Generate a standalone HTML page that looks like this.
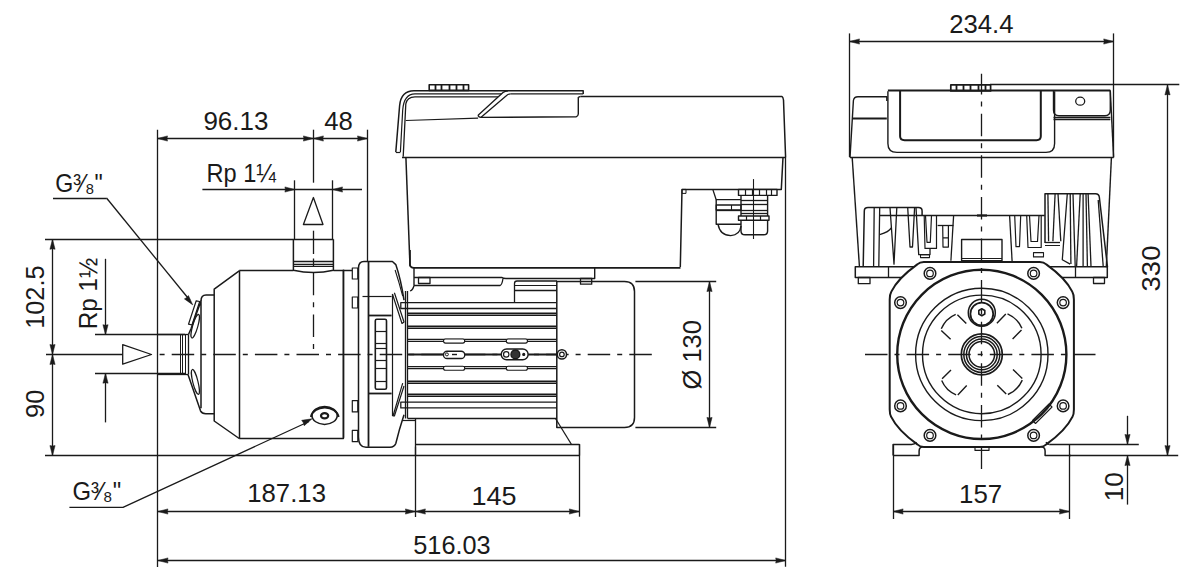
<!DOCTYPE html>
<html><head><meta charset="utf-8"><style>
html,body{margin:0;padding:0;background:#fff;width:1200px;height:584px;overflow:hidden}
svg{display:block}
text{font-family:"Liberation Sans",sans-serif;fill:#1a1a1a;stroke:none}
</style></head><body>
<svg width="1200" height="584" viewBox="0 0 1200 584" fill="none" stroke="#1a1a1a" stroke-linecap="butt" stroke-linejoin="round">
<line x1="157.5" y1="138.5" x2="367.5" y2="138.5" stroke-width="1.3" />
<polygon points="157.5,138.5 167.50,135.90 167.00,138.50 167.50,141.10" fill="#1a1a1a" stroke="#1a1a1a" stroke-width="0.5"/>
<polygon points="313.4,138.5 303.40,141.10 303.90,138.50 303.40,135.90" fill="#1a1a1a" stroke="#1a1a1a" stroke-width="0.5"/>
<polygon points="313.4,138.5 323.40,135.90 322.90,138.50 323.40,141.10" fill="#1a1a1a" stroke="#1a1a1a" stroke-width="0.5"/>
<polygon points="367.5,138.5 357.50,141.10 358.00,138.50 357.50,135.90" fill="#1a1a1a" stroke="#1a1a1a" stroke-width="0.5"/>
<line x1="157.5" y1="129.7" x2="157.5" y2="567" stroke-width="1.3" />
<line x1="313.5" y1="129.7" x2="313.5" y2="182.7" stroke-width="1.3" />
<line x1="367.5" y1="129.7" x2="367.5" y2="262" stroke-width="1.3" />
<text x="235.9" y="130.3" font-size="25" text-anchor="middle" textLength="65" lengthAdjust="spacingAndGlyphs" >96.13</text>
<text x="338.6" y="130.3" font-size="25" text-anchor="middle" textLength="28.6" lengthAdjust="spacingAndGlyphs" >48</text>
<text x="206.5" y="182" font-size="25" text-anchor="start" textLength="69.5" lengthAdjust="spacingAndGlyphs" >Rp 1¼</text>
<line x1="202.4" y1="189.5" x2="294.9" y2="189.5" stroke-width="1.3" />
<polygon points="294.9,189.5 284.90,192.10 285.40,189.50 284.90,186.90" fill="#1a1a1a" stroke="#1a1a1a" stroke-width="0.5"/>
<line x1="362" y1="189.5" x2="294.9" y2="189.5" stroke-width="1.3" />
<polygon points="332.5,189.5 342.50,186.90 342.00,189.50 342.50,192.10" fill="#1a1a1a" stroke="#1a1a1a" stroke-width="0.5"/>
<line x1="294.5" y1="180.3" x2="294.5" y2="239.3" stroke-width="1.3" />
<line x1="332.5" y1="180.3" x2="332.5" y2="239.3" stroke-width="1.3" />
<polygon points="303.4,224.5 313.4,197.5 323,224.5" stroke-width="1.3" />
<line x1="52.5" y1="239.3" x2="52.5" y2="455.6" stroke-width="1.3" />
<polygon points="52.5,239.3 55.10,249.30 52.50,248.80 49.90,249.30" fill="#1a1a1a" stroke="#1a1a1a" stroke-width="0.5"/>
<polygon points="52.5,354.5 49.90,344.50 52.50,345.00 55.10,344.50" fill="#1a1a1a" stroke="#1a1a1a" stroke-width="0.5"/>
<polygon points="52.5,354.5 55.10,364.50 52.50,364.00 49.90,364.50" fill="#1a1a1a" stroke="#1a1a1a" stroke-width="0.5"/>
<polygon points="52.5,455.6 49.90,445.60 52.50,446.10 55.10,445.60" fill="#1a1a1a" stroke="#1a1a1a" stroke-width="0.5"/>
<line x1="45" y1="239.5" x2="333.4" y2="239.5" stroke-width="1.3" />
<line x1="46" y1="354.5" x2="122.7" y2="354.5" stroke-width="1.3" />
<line x1="45" y1="455.5" x2="580" y2="455.5" stroke-width="1.3" />
<text x="43.6" y="328.8" font-size="25" text-anchor="start" transform="rotate(-90 43.6 328.8)" textLength="63.4" lengthAdjust="spacingAndGlyphs" >102.5</text>
<text x="44" y="417.9" font-size="25" text-anchor="start" transform="rotate(-90 44 417.9)" textLength="28.2" lengthAdjust="spacingAndGlyphs" >90</text>
<line x1="105.5" y1="258.8" x2="105.5" y2="334.7" stroke-width="1.3" />
<polygon points="105.5,334.7 102.90,324.70 105.50,325.20 108.10,324.70" fill="#1a1a1a" stroke="#1a1a1a" stroke-width="0.5"/>
<line x1="105.5" y1="422.4" x2="105.5" y2="373.2" stroke-width="1.3" />
<polygon points="105.5,373.2 108.10,383.20 105.50,382.70 102.90,383.20" fill="#1a1a1a" stroke="#1a1a1a" stroke-width="0.5"/>
<line x1="95" y1="334.5" x2="185" y2="334.5" stroke-width="1.3" />
<line x1="95" y1="373.5" x2="185" y2="373.5" stroke-width="1.3" />
<text x="96.8" y="329.2" font-size="25" text-anchor="start" transform="rotate(-90 96.8 329.2)" textLength="71.6" lengthAdjust="spacingAndGlyphs" >Rp 1½</text>
<polygon points="122.7,344.7 151.5,354.5 122.7,364.2" stroke-width="1.3" />
<text x="55.3" y="192" font-size="25" text-anchor="start" textLength="47.5" lengthAdjust="spacingAndGlyphs" >G³⁄₈"</text>
<line x1="53" y1="198.5" x2="106.5" y2="198.5" stroke-width="1.3" />
<line x1="106.5" y1="198" x2="190" y2="300.5" stroke-width="1.3" />
<polygon points="192.8,304.9 184.40,298.88 186.72,297.60 188.40,295.55" fill="#1a1a1a" stroke="#1a1a1a" stroke-width="0.5"/>
<text x="72.4" y="499.6" font-size="25" text-anchor="start" textLength="48.8" lengthAdjust="spacingAndGlyphs" >G³⁄₈"</text>
<polyline points="69.4,507.3 123,507.3 309,421.5" stroke-width="1.3" />
<polygon points="312,418.8 304.21,425.75 303.39,422.82 301.67,420.32" fill="#1a1a1a" stroke="#1a1a1a" stroke-width="0.5"/>
<line x1="157.9" y1="511.5" x2="579.3" y2="511.5" stroke-width="1.3" />
<polygon points="157.9,511.5 167.90,508.90 167.40,511.50 167.90,514.10" fill="#1a1a1a" stroke="#1a1a1a" stroke-width="0.5"/>
<polygon points="415.4,511.5 405.40,514.10 405.90,511.50 405.40,508.90" fill="#1a1a1a" stroke="#1a1a1a" stroke-width="0.5"/>
<polygon points="415.4,511.5 425.40,508.90 424.90,511.50 425.40,514.10" fill="#1a1a1a" stroke="#1a1a1a" stroke-width="0.5"/>
<polygon points="579.3,511.5 569.30,514.10 569.80,511.50 569.30,508.90" fill="#1a1a1a" stroke="#1a1a1a" stroke-width="0.5"/>
<line x1="415.5" y1="446.7" x2="415.5" y2="517" stroke-width="1.3" />
<line x1="579.5" y1="444" x2="579.5" y2="516.7" stroke-width="1.3" />
<text x="286.6" y="502.3" font-size="25" text-anchor="middle" textLength="78.8" lengthAdjust="spacingAndGlyphs" >187.13</text>
<text x="493.9" y="504.8" font-size="25" text-anchor="middle" textLength="45" lengthAdjust="spacingAndGlyphs" >145</text>
<line x1="158" y1="560.5" x2="785.7" y2="560.5" stroke-width="1.3" />
<polygon points="158,560.5 168.00,557.90 167.50,560.50 168.00,563.10" fill="#1a1a1a" stroke="#1a1a1a" stroke-width="0.5"/>
<polygon points="785.7,560.5 775.70,563.10 776.20,560.50 775.70,557.90" fill="#1a1a1a" stroke="#1a1a1a" stroke-width="0.5"/>
<line x1="785.5" y1="157" x2="785.5" y2="566.7" stroke-width="1.3" />
<text x="452" y="554" font-size="25" text-anchor="middle" textLength="77.4" lengthAdjust="spacingAndGlyphs" >516.03</text>
<line x1="709.5" y1="281.6" x2="709.5" y2="427.4" stroke-width="1.3" />
<polygon points="709.5,281.6 712.10,291.60 709.50,291.10 706.90,291.60" fill="#1a1a1a" stroke="#1a1a1a" stroke-width="0.5"/>
<polygon points="709.5,427.4 706.90,417.40 709.50,417.90 712.10,417.40" fill="#1a1a1a" stroke="#1a1a1a" stroke-width="0.5"/>
<line x1="635.4" y1="281.5" x2="716.2" y2="281.5" stroke-width="1.3" />
<line x1="635.4" y1="427.5" x2="716.2" y2="427.5" stroke-width="1.3" />
<text x="701" y="389.5" font-size="25" text-anchor="start" transform="rotate(-90 701 389.5)" textLength="69.4" lengthAdjust="spacingAndGlyphs" >Ø 130</text>
<line x1="849.5" y1="41.5" x2="1113.7" y2="41.5" stroke-width="1.3" />
<polygon points="849.5,41.5 859.50,38.90 859.00,41.50 859.50,44.10" fill="#1a1a1a" stroke="#1a1a1a" stroke-width="0.5"/>
<polygon points="1113.7,41.5 1103.70,44.10 1104.20,41.50 1103.70,38.90" fill="#1a1a1a" stroke="#1a1a1a" stroke-width="0.5"/>
<line x1="849.5" y1="33.4" x2="849.5" y2="157" stroke-width="1.3" />
<line x1="1113.5" y1="33.4" x2="1113.5" y2="157" stroke-width="1.3" />
<text x="981.4" y="33.4" font-size="25" text-anchor="middle" textLength="64.3" lengthAdjust="spacingAndGlyphs" >234.4</text>
<line x1="1167.5" y1="84.9" x2="1167.5" y2="455.6" stroke-width="1.3" />
<polygon points="1167.5,84.9 1170.10,94.90 1167.50,94.40 1164.90,94.90" fill="#1a1a1a" stroke="#1a1a1a" stroke-width="0.5"/>
<polygon points="1167.5,455.6 1164.90,445.60 1167.50,446.10 1170.10,445.60" fill="#1a1a1a" stroke="#1a1a1a" stroke-width="0.5"/>
<line x1="990" y1="84.5" x2="1179.3" y2="84.5" stroke-width="1.3" />
<line x1="1069.5" y1="455.5" x2="1178.2" y2="455.5" stroke-width="1.3" />
<text x="1160" y="291.4" font-size="25" text-anchor="start" transform="rotate(-90 1160 291.4)" textLength="45.8" lengthAdjust="spacingAndGlyphs" >330</text>
<line x1="893.1" y1="511.5" x2="1069.5" y2="511.5" stroke-width="1.3" />
<polygon points="893.1,511.5 903.10,508.90 902.60,511.50 903.10,514.10" fill="#1a1a1a" stroke="#1a1a1a" stroke-width="0.5"/>
<polygon points="1069.5,511.5 1059.50,514.10 1060.00,511.50 1059.50,508.90" fill="#1a1a1a" stroke="#1a1a1a" stroke-width="0.5"/>
<line x1="893.5" y1="444.4" x2="893.5" y2="519" stroke-width="1.3" />
<line x1="1069.5" y1="444.4" x2="1069.5" y2="519" stroke-width="1.3" />
<text x="980.6" y="503.3" font-size="25" text-anchor="middle" textLength="43.2" lengthAdjust="spacingAndGlyphs" >157</text>
<line x1="1127.5" y1="415.8" x2="1127.5" y2="444.4" stroke-width="1.3" />
<polygon points="1127.5,444.4 1124.90,434.40 1127.50,434.90 1130.10,434.40" fill="#1a1a1a" stroke="#1a1a1a" stroke-width="0.5"/>
<line x1="1127.5" y1="504.6" x2="1127.5" y2="455.6" stroke-width="1.3" />
<polygon points="1127.5,455.6 1130.10,465.60 1127.50,465.10 1124.90,465.60" fill="#1a1a1a" stroke="#1a1a1a" stroke-width="0.5"/>
<line x1="1049.5" y1="444.5" x2="1138.8" y2="444.5" stroke-width="1.3" />
<text x="1123" y="501.2" font-size="25" text-anchor="start" transform="rotate(-90 1123 501.2)" textLength="29.1" lengthAdjust="spacingAndGlyphs" >10</text>
<line x1="157.5" y1="354.5" x2="653.5" y2="354.5" stroke-width="1.3" stroke-dasharray="22.5,7,5,7.1" stroke-dashoffset="27.4"/>
<line x1="313.5" y1="230.7" x2="313.5" y2="254" stroke-width="1.3" />
<line x1="313.5" y1="258.5" x2="313.5" y2="266" stroke-width="1.3" />
<line x1="157.5" y1="334.5" x2="188.5" y2="334.5" stroke-width="1.3" />
<line x1="157.5" y1="374.5" x2="188" y2="374.5" stroke-width="1.3" />
<line x1="180.5" y1="334.5" x2="180.5" y2="374.5" stroke-width="1.0" />
<line x1="182.5" y1="334.5" x2="182.5" y2="374.5" stroke-width="1.0" />
<line x1="185.5" y1="334.5" x2="185.5" y2="374.5" stroke-width="1.0" />
<line x1="188.5" y1="334.5" x2="188.5" y2="374.5" stroke-width="1.3" />
<polygon points="188.5,324.2 196.2,300.8 199.7,301.5 192,325" stroke-width="1.2" />
<ellipse cx="195.2" cy="326.2" rx="2.6" ry="12.3" stroke-width="1.2" transform="rotate(16 195.2 326.2)"/>
<ellipse cx="195.4" cy="381.9" rx="2.6" ry="12.8" stroke-width="1.2" transform="rotate(-14 195.4 381.9)"/>
<path d="M188.5,334.5 L191.1,328.5 L201,301 L201,408.2 M188,374.5 L200.5,410.8 Q202,413.7 205.7,413.7 L214.2,413.7" stroke-width="1.5" />
<path d="M201,301 Q201,295.1 206,295.1 L214.2,295.1" stroke-width="1.5" />
<path d="M239.2,270.8 L214.2,289.1 L214.2,421 L239.2,438.5" stroke-width="1.5" />
<line x1="239.2" y1="270.5" x2="293.4" y2="270.5" stroke-width="1.5" />
<path d="M239.2,438.5 L343.4,438.5 L343.4,270.6" stroke-width="1.5" />
<line x1="333.4" y1="270.5" x2="352.3" y2="270.5" stroke-width="1.5" />
<line x1="239.5" y1="270.8" x2="239.5" y2="438.5" stroke-width="1.5" />
<path d="M293.4,239.3 L293.4,270.2 Q313.6,275 333.4,270.2 L333.4,239.3" stroke-width="1.5" />
<line x1="293.4" y1="261.5" x2="333.4" y2="261.5" stroke-width="1.6" />
<line x1="293.4" y1="264.5" x2="333.4" y2="264.5" stroke-width="1.4" />
<line x1="293.4" y1="266.5" x2="333.4" y2="266.5" stroke-width="1.0" />
<line x1="313.5" y1="272.8" x2="313.5" y2="349" stroke-width="1.3" stroke-dasharray="22.5,7,5,7.1"/>
<ellipse cx="324.6" cy="415.4" rx="12.6" ry="9" stroke-width="1.5" />
<path d="M310.9,417 A13.95,10.8 0 0 1 338.6,417" stroke-width="2.0" />
<ellipse cx="324.6" cy="415.7" rx="3.6" ry="2.6" stroke-width="2.2" />
<rect x="352.3" y="268" width="5.5" height="11" rx="0" stroke-width="1.2" />
<rect x="352.3" y="297" width="5.5" height="11" rx="0" stroke-width="1.2" />
<rect x="352.3" y="400.6" width="5.5" height="11.3" rx="0" stroke-width="1.2" />
<rect x="352.3" y="430.4" width="5.5" height="11.3" rx="0" stroke-width="1.2" />
<line x1="343.5" y1="269.6" x2="343.5" y2="437.8" stroke-width="1.5" />
<path d="M358.5,437 L358.5,268 Q358.5,261.5 364,261.5 L392.4,261.5 L395.8,264.6 Q401,280 404,300.2" stroke-width="1.5" />
<path d="M358.5,437 Q358.5,447.3 366,447.3 L390,447.3 Q394.5,447 395.8,443.5 Q399,430 404,414.7" stroke-width="1.5" />
<line x1="368.5" y1="262" x2="368.5" y2="446.8" stroke-width="1.8" />
<line x1="362.5" y1="296.5" x2="391.6" y2="296.5" stroke-width="1.2" />
<line x1="368" y1="315.5" x2="391.6" y2="315.5" stroke-width="1.8" />
<line x1="368" y1="393.5" x2="391.6" y2="393.5" stroke-width="1.8" />
<line x1="392.5" y1="294" x2="392.5" y2="416" stroke-width="1.2" />
<rect x="375.3" y="319.3" width="11.2" height="70" rx="1.5" stroke-width="1.6" />
<line x1="375.3" y1="331.5" x2="386.5" y2="331.5" stroke-width="1.2" />
<line x1="375.3" y1="343.5" x2="386.5" y2="343.5" stroke-width="1.2" />
<line x1="375.3" y1="348.5" x2="386.5" y2="348.5" stroke-width="1.2" />
<line x1="375.3" y1="360.5" x2="386.5" y2="360.5" stroke-width="1.2" />
<line x1="375.3" y1="368.5" x2="386.5" y2="368.5" stroke-width="1.2" />
<line x1="375.3" y1="381.5" x2="386.5" y2="381.5" stroke-width="1.2" />
<path d="M395.1,270 Q399,282 402.7,296" stroke-width="1.1" />
<path d="M392.4,294 L402,323.5 L404,322 L394.4,292.7 M402.7,383.2 L393,416 L394.4,416 L404,386" stroke-width="1.2" />
<line x1="402" y1="420.5" x2="415.5" y2="420.5" stroke-width="1.2" />
<line x1="405.5" y1="291" x2="405.5" y2="418.5" stroke-width="1.3" />
<line x1="407.5" y1="291" x2="407.5" y2="418.5" stroke-width="1.3" />
<line x1="407.6" y1="313.5" x2="556.8" y2="313.5" stroke-width="1.8" />
<line x1="407.6" y1="315.5" x2="556.8" y2="315.5" stroke-width="1.0" />
<line x1="407.6" y1="326.5" x2="556.8" y2="326.5" stroke-width="1.8" />
<line x1="407.6" y1="328.5" x2="556.8" y2="328.5" stroke-width="1.0" />
<line x1="407.6" y1="339.5" x2="556.8" y2="339.5" stroke-width="1.3" />
<line x1="407.6" y1="341.5" x2="556.8" y2="341.5" stroke-width="1.0" />
<line x1="407.6" y1="354.5" x2="556.8" y2="354.5" stroke-width="1.8" />
<line x1="407.6" y1="366.5" x2="556.8" y2="366.5" stroke-width="1.0" />
<line x1="407.6" y1="368.5" x2="556.8" y2="368.5" stroke-width="1.3" />
<line x1="407.6" y1="381.5" x2="556.8" y2="381.5" stroke-width="1.8" />
<line x1="407.6" y1="383.5" x2="556.8" y2="383.5" stroke-width="1.0" />
<line x1="407.6" y1="394.5" x2="556.8" y2="394.5" stroke-width="1.8" />
<line x1="407.6" y1="396.5" x2="556.8" y2="396.5" stroke-width="1.0" />
<path d="M556.8,302.7 L400.8,302.7 L400.8,308.5 L556.8,308.5" stroke-width="1.3" />
<path d="M556.8,402.1 L400.8,402.1 L400.8,407.9 L556.8,407.9" stroke-width="1.3" />
<line x1="407.6" y1="418.5" x2="556.8" y2="418.5" stroke-width="1.5" />
<rect x="443.5" y="339" width="21.25" height="4.1" rx="2" stroke-width="1.1" fill="#fff"/>
<rect x="443.5" y="366.25" width="21.25" height="4" rx="2" stroke-width="1.1" fill="#fff"/>
<rect x="506.25" y="339" width="21.25" height="4.1" rx="2" stroke-width="1.1" fill="#fff"/>
<rect x="506.25" y="366.25" width="21.25" height="4" rx="2" stroke-width="1.1" fill="#fff"/>
<rect x="443.5" y="351.25" width="21.25" height="7.25" rx="3.6" stroke-width="1.3" fill="#fff"/>
<circle cx="446.9" cy="354.4" r="1.5" stroke-width="1.0" />
<line x1="452" y1="354.5" x2="457" y2="354.5" stroke-width="1.4" />
<rect x="501.25" y="349" width="26.85" height="10.75" rx="5.4" stroke-width="1.4" fill="#fff"/>
<circle cx="506.25" cy="354.4" r="2.7" stroke-width="1.2" />
<circle cx="515.4" cy="354.4" r="4.4" stroke-width="1.4" fill="#333"/>
<circle cx="523.75" cy="354.4" r="1.0" stroke-width="1.2" fill="#1a1a1a"/>
<circle cx="561.9" cy="354.4" r="4.6" stroke-width="1.5" fill="#fff"/>
<circle cx="561.9" cy="354.4" r="2.3" stroke-width="1.2" />
<path d="M556.8,281.6 L624.5,281.6 Q634.5,281.6 634.5,291.6 L634.5,417.4 Q634.5,427.4 624.5,427.4 L556.8,427.4 Z" stroke-width="1.5" />
<path d="M514.5,302.2 L514.5,283.5 Q514.5,281 517,281 L557,281" stroke-width="1.3" />
<line x1="514.5" y1="285.5" x2="557" y2="285.5" stroke-width="1.0" />
<line x1="514.5" y1="290.5" x2="557" y2="290.5" stroke-width="1.5" />
<path d="M410,250 L410,264.5 Q410,267.8 414,267.8 L680.5,267.8" stroke-width="1.7" />
<path d="M414,267.8 L414,285.5 M414,277.5 L502,277.5 Q503,278.5 506,278.5 L594.7,278.5 L594.7,267" stroke-width="1.4" />
<path d="M414,285.5 L500,285.5 Q502,285 503,278.5" stroke-width="1.3" />
<path d="M414,285.5 Q413,290 410,291" stroke-width="1.3" />
<rect x="418.5" y="277.5" width="11.5" height="6" rx="0" stroke-width="1.3" />
<rect x="580.5" y="278.5" width="11.2" height="5.7" rx="0" stroke-width="1.3" />
<line x1="415.5" y1="418.5" x2="415.5" y2="455.6" stroke-width="1.3" />
<path d="M555.5,418.5 L571.5,444.5" stroke-width="1.3" />
<line x1="415.5" y1="444.5" x2="579.5" y2="444.5" stroke-width="1.3" />
<line x1="579.5" y1="444.5" x2="579.5" y2="455.6" stroke-width="1.3" />
<rect x="429.2" y="84.8" width="39.4" height="5.6" rx="0" stroke-width="1.6" />
<line x1="435.5" y1="85" x2="435.5" y2="90.4" stroke-width="1.8" />
<line x1="441.5" y1="85" x2="441.5" y2="90.4" stroke-width="1.8" />
<line x1="449.5" y1="85" x2="449.5" y2="90.4" stroke-width="1.8" />
<line x1="456.5" y1="85" x2="456.5" y2="90.4" stroke-width="1.8" />
<line x1="463.5" y1="85" x2="463.5" y2="90.4" stroke-width="1.8" />
<path d="M395.8,152 L399.6,105.8 Q401,90.8 414,90.8 L583.2,90.8 L583.2,94.1" stroke-width="1.5" />
<path d="M400.4,152 L402.7,110 Q404,93.9 415,93.9 L501.4,93.9" stroke-width="1.2" />
<line x1="395.8" y1="152.5" x2="400.4" y2="152.5" stroke-width="1.2" />
<path d="M510.6,93.9 L583.2,93.9" stroke-width="1.2" />
<path d="M403.2,156.7 L405.8,104 Q407,96.8 415,96.8 L498,96.8" stroke-width="1.3" />
<line x1="580.5" y1="96.5" x2="782" y2="96.5" stroke-width="1.5" />
<path d="M782,96.3 Q783,96.8 783.5,100 L785.6,157.2" stroke-width="1.5" />
<path d="M478.1,115.2 L503,92.5 Q505,90.8 508,90.8" stroke-width="1.3" />
<path d="M480.8,117.4 L506,96 Q508,93.9 510.6,93.9" stroke-width="1.3" />
<path d="M478.1,115.2 Q478.5,117.4 480.8,117.4 L576.2,116.8 Q578,116.5 578.3,114 L578.3,97.3 L580.5,96.3" stroke-width="1.4" />
<line x1="405.8" y1="120.5" x2="478.1" y2="118.2" stroke-width="1.2" />
<line x1="402" y1="157.5" x2="785.6" y2="157.5" stroke-width="1.5" />
<path d="M405.9,157.3 L410,266.3" stroke-width="1.5" />
<path d="M783,157.3 L781.3,189.4 L682,189.4 L680.3,267.1" stroke-width="1.5" />
<rect x="682" y="189.4" width="4" height="4" rx="0" stroke-width="1.0" />
<rect x="738.5" y="189.4" width="38.5" height="6" rx="0" stroke-width="1.4" />
<line x1="745.5" y1="189.4" x2="745.5" y2="195.4" stroke-width="1.2" />
<line x1="752.5" y1="189.4" x2="752.5" y2="195.4" stroke-width="1.2" />
<line x1="759.5" y1="189.4" x2="759.5" y2="195.4" stroke-width="1.2" />
<line x1="766.5" y1="189.4" x2="766.5" y2="195.4" stroke-width="1.2" />
<line x1="771.5" y1="189.4" x2="771.5" y2="195.4" stroke-width="1.2" />
<path d="M741,195.4 L741,216 M767.6,195.4 L767.6,216" stroke-width="1.4" />
<line x1="741" y1="200.5" x2="767.6" y2="200.5" stroke-width="1.3" />
<line x1="741" y1="204.5" x2="767.6" y2="204.5" stroke-width="1.3" />
<line x1="741" y1="210.5" x2="767.6" y2="210.5" stroke-width="1.3" />
<line x1="741" y1="213.5" x2="767.6" y2="213.5" stroke-width="1.3" />
<rect x="738.5" y="216" width="30.5" height="4.2" rx="0" stroke-width="1.4" />
<line x1="746.5" y1="216" x2="746.5" y2="220.2" stroke-width="1.2" />
<line x1="760.5" y1="216" x2="760.5" y2="220.2" stroke-width="1.2" />
<path d="M741,220.2 L741,231 Q741,234.8 745,234.8 L763.6,234.8 Q767.6,234.8 767.6,231 L767.6,220.2" stroke-width="1.4" />
<line x1="753.5" y1="179.1" x2="753.5" y2="239" stroke-width="1.1" />
<path d="M712.8,189.4 L716.2,199.7 L741,199.7" stroke-width="1.3" />
<rect x="716.2" y="205" width="24.8" height="5" rx="0" stroke-width="1.3" />
<line x1="731.5" y1="205" x2="731.5" y2="210" stroke-width="1.1" />
<path d="M716.2,199.7 L716.2,224.2 L741,224.2 M718,224.2 Q720,235.6 730.8,235.6 Q740,235 741,226" stroke-width="1.4" />
<line x1="716.2" y1="210.5" x2="741" y2="210.5" stroke-width="1.3" />
<rect x="950.8" y="84.9" width="39.8" height="6" rx="0" stroke-width="1.7" />
<line x1="956.5" y1="85.1" x2="956.5" y2="90.5" stroke-width="1.8" />
<line x1="963.5" y1="85.1" x2="963.5" y2="90.5" stroke-width="1.8" />
<line x1="970.5" y1="85.1" x2="970.5" y2="90.5" stroke-width="1.8" />
<line x1="978.5" y1="85.1" x2="978.5" y2="90.5" stroke-width="1.8" />
<line x1="985.5" y1="85.1" x2="985.5" y2="90.5" stroke-width="1.8" />
<path d="M850,157.6 L853.4,100.5 Q854,96.7 858,96.7 L886.8,96.7 L886.8,101" stroke-width="1.4" />
<line x1="853" y1="118.5" x2="886.8" y2="118.5" stroke-width="2.0" />
<path d="M887.9,91.2 L887.9,143.5 Q887.9,152.4 897,152.4 L1046,152.4 Q1054.6,152.4 1054.6,143.5 L1054.6,91.2" stroke-width="1.4" />
<path d="M900.1,90.5 L900.1,136.3 Q900.1,140.2 904.6,140.2 L1036.5,140.2 Q1040.8,140.2 1040.8,136.3 L1040.8,90.5" stroke-width="2.0" />
<line x1="887.9" y1="90.5" x2="1110.3" y2="90.5" stroke-width="1.9" />
<path d="M1053.5,90.5 L1053.5,110 Q1053.5,115.7 1059,115.7 L1105,115.7 Q1110.3,115.7 1110.3,110 L1110.3,90.5" stroke-width="1.4" />
<line x1="1053.5" y1="117.5" x2="1110.3" y2="117.5" stroke-width="1.3" />
<line x1="1053.5" y1="119.5" x2="1110.3" y2="119.5" stroke-width="1.3" />
<ellipse cx="1080.2" cy="101.2" rx="4.5" ry="4" stroke-width="1.3" />
<path d="M1110.3,90.5 L1113.6,157.6" stroke-width="1.4" />
<line x1="850" y1="157.5" x2="1113.6" y2="157.5" stroke-width="1.5" />
<line x1="852.2" y1="157.6" x2="859.4" y2="266.2" stroke-width="1.4" />
<line x1="1111.4" y1="157.6" x2="1106.3" y2="267.2" stroke-width="1.4" />
<line x1="922" y1="215.5" x2="1044.7" y2="215.5" stroke-width="1.4" />
<path d="M863.2,266.2 L864.3,211 Q864.3,207.6 868,207.6 L918.5,207.6 Q922.1,207.6 922.1,211 L922.1,215.5" stroke-width="1.5" />
<path d="M874.2,207.6 L873.6,266.2 M879.7,207.6 L878.8,266.2" stroke-width="1.3" />
<path d="M890,207.6 L894,264.2 L896.8,207.6" stroke-width="1.3" />
<path d="M907.7,207.6 L910,247 L912.5,247 L914.6,207.6" stroke-width="1.3" />
<path d="M916,207.6 L918.7,254.6 L930,254.6 L930,248.4" stroke-width="1.3" />
<rect x="920.5" y="254.6" width="9" height="3" rx="0" stroke-width="1.1" />
<line x1="879.7" y1="215.5" x2="922" y2="215.5" stroke-width="1.3" />
<path d="M879.7,234.7 Q889,232 891.3,227.9" stroke-width="1.3" />
<path d="M924.2,215.5 L925,248.4 L936.5,248.4 L936.5,215.5 M925.5,215.5 L927,242.3 L930.3,242.3 L931.5,215.5" stroke-width="1.2" />
<line x1="937.6" y1="225.5" x2="953.5" y2="225.5" stroke-width="1.3" />
<path d="M942.7,225 L943,247.1 L948.4,247.1 L948.4,225 M943,237.9 L948.4,237.9" stroke-width="1.2" />
<line x1="953.6" y1="215.5" x2="950.9" y2="260.8" stroke-width="1.3" />
<path d="M1045,243 L1045,193.7 L1095.5,193.7 Q1098.9,193.7 1099.3,197 L1107.5,267" stroke-width="1.5" />
<polyline points="1047.9,193.7 1048.6,241.2" stroke-width="1.3" />
<polyline points="1055.1,193.7 1052.9,241.2" stroke-width="1.3" />
<polyline points="1058,193.7 1060.8,241.2" stroke-width="1.3" />
<polyline points="1067.3,193.7 1062.3,259.8 1070.2,264.1" stroke-width="1.3" />
<polyline points="1070.2,193.7 1070.9,264.1" stroke-width="1.3" />
<polyline points="1073,193.7 1075.2,266.3" stroke-width="1.3" />
<polyline points="1080.2,193.7 1076.6,266.3" stroke-width="1.3" />
<polyline points="1083.1,193.7 1083.1,266.3" stroke-width="1.3" />
<polyline points="1086,193.7 1087.4,266.3" stroke-width="1.3" />
<polyline points="1088.1,193.7 1091,266.3" stroke-width="1.3" />
<polyline points="1098.2,200 1103.2,266.3" stroke-width="1.3" />
<line x1="1045" y1="242.5" x2="1060" y2="242.5" stroke-width="1.3" />
<line x1="1045" y1="245.5" x2="1060" y2="245.5" stroke-width="1.0" />
<path d="M1009.6,215.5 L1012.1,261.2" stroke-width="1.3" />
<path d="M1014.7,215.5 L1016,246.6 L1019.5,246.6 L1020.7,215.5" stroke-width="1.2" />
<path d="M1026.7,215.5 L1028,247.5 L1041.2,247.5 L1041.2,215.5 M1029.5,215.5 L1031,241.5 L1037.5,241.5 L1039,215.5" stroke-width="1.2" />
<rect x="1033.5" y="252.6" width="10" height="4.3" rx="0" stroke-width="1.1" />
<rect x="855.3" y="266.8" width="252" height="10.7" rx="0" stroke-width="1.5" />
<line x1="888.5" y1="266.8" x2="888.5" y2="277.5" stroke-width="1.3" />
<line x1="1075.5" y1="266.8" x2="1075.5" y2="277.5" stroke-width="1.3" />
<rect x="858.3" y="277.5" width="11.7" height="6.2" rx="0" stroke-width="1.3" />
<rect x="1093.5" y="277.5" width="11" height="6" rx="0" stroke-width="1.3" />
<rect x="961.6" y="239.5" width="40.4" height="22.6" rx="0" stroke-width="1.4" />
<line x1="961.6" y1="258.5" x2="1002" y2="258.5" stroke-width="1.0" />
<line x1="961.6" y1="260.5" x2="1002" y2="260.5" stroke-width="1.0" />
<path d="M923.80,261.90 L1039.80,261.90 Q1043.80,261.90 1046.30,264.40 Q1065.80,278.40 1072.40,291.90 Q1073.90,294.40 1073.90,299.40 L1073.90,409.40 Q1073.90,414.40 1072.40,416.90 Q1065.80,430.40 1046.30,444.40 Q1043.80,446.90 1039.80,446.90 L923.80,446.90 Q919.80,446.90 917.30,444.40 Q897.80,430.40 891.20,416.90 Q889.70,414.40 889.70,409.40 L889.70,299.40 Q889.70,294.40 891.20,291.90 Q897.80,278.40 917.30,264.40 Q919.80,261.90 923.80,261.90 Z" stroke-width="2.0" fill="#fff"/>
<circle cx="981.8" cy="354.4" r="84.6" stroke-width="2.4" />
<circle cx="981.8" cy="354.4" r="66.2" stroke-width="1.4" />
<circle cx="981.8" cy="354.4" r="59.3" stroke-width="1.4" />
<circle cx="981.8" cy="354.4" r="20.5" stroke-width="1.7" />
<circle cx="981.8" cy="354.4" r="18" stroke-width="1.5" />
<circle cx="981.8" cy="354.4" r="15.4" stroke-width="1.5" />
<circle cx="981.8" cy="354.4" r="12.8" stroke-width="1.5" />
<circle cx="981.8" cy="312.7" r="13.5" stroke-width="1.5" />
<circle cx="981.8" cy="314" r="11.4" stroke-width="1.8" />
<path d="M978.8,310.5 L981.8,308.8 L984.8,310.5 L984.8,314 L981.8,315.7 L978.8,314 Z" stroke-width="1.6" />
<circle cx="930.0" cy="273.4" r="5.8" stroke-width="1.5" />
<circle cx="930.0" cy="273.4" r="3.3" stroke-width="1.2" />
<circle cx="1033.6" cy="273.4" r="5.8" stroke-width="1.5" />
<circle cx="1033.6" cy="273.4" r="3.3" stroke-width="1.2" />
<circle cx="900.5" cy="302.59999999999997" r="5.8" stroke-width="1.5" />
<circle cx="900.5" cy="302.59999999999997" r="3.3" stroke-width="1.2" />
<circle cx="1063.1" cy="302.59999999999997" r="5.8" stroke-width="1.5" />
<circle cx="1063.1" cy="302.59999999999997" r="3.3" stroke-width="1.2" />
<circle cx="900.5" cy="405.9" r="5.8" stroke-width="1.5" />
<circle cx="900.5" cy="405.9" r="3.3" stroke-width="1.2" />
<circle cx="1063.1" cy="405.9" r="5.8" stroke-width="1.5" />
<circle cx="1063.1" cy="405.9" r="3.3" stroke-width="1.2" />
<circle cx="930.0" cy="435.4" r="5.8" stroke-width="1.5" />
<circle cx="930.0" cy="435.4" r="3.3" stroke-width="1.2" />
<circle cx="1033.6" cy="435.4" r="5.8" stroke-width="1.5" />
<circle cx="1033.6" cy="435.4" r="3.3" stroke-width="1.2" />
<path d="M941.3,328.7 Q945.8,318.4 955.6999999999999,314.29999999999995 M957.4,314.7 L966.3,323.59999999999997 M941.3,330.4 L950.5999999999999,339.29999999999995" stroke-width="1.4" transform="rotate(0 981.8 354.4)"/>
<path d="M941.3,328.7 Q945.8,318.4 955.6999999999999,314.29999999999995 M957.4,314.7 L966.3,323.59999999999997 M941.3,330.4 L950.5999999999999,339.29999999999995" stroke-width="1.4" transform="rotate(90 981.8 354.4)"/>
<path d="M941.3,328.7 Q945.8,318.4 955.6999999999999,314.29999999999995 M957.4,314.7 L966.3,323.59999999999997 M941.3,330.4 L950.5999999999999,339.29999999999995" stroke-width="1.4" transform="rotate(180 981.8 354.4)"/>
<path d="M941.3,328.7 Q945.8,318.4 955.6999999999999,314.29999999999995 M957.4,314.7 L966.3,323.59999999999997 M941.3,330.4 L950.5999999999999,339.29999999999995" stroke-width="1.4" transform="rotate(270 981.8 354.4)"/>
<polygon points="1032.5,420.5 1049,404 1052,407 1035.5,423.5" stroke-width="1.1" />
<path d="M893.1,455.6 L893.1,444.4 L911.5,444.4 Q914.5,444.4 916.5,442.2" stroke-width="1.5" />
<path d="M893.1,455.6 L919.1,455.6 L919.1,451 Q919.1,446.8 923.8,446.8" stroke-width="1.5" />
<path d="M1071,455.6 L1045.1,455.6 L1045.1,451 Q1045.1,446.8 1040.5,446.8" stroke-width="1.5" />
<path d="M1049.5,444.4 Q1047.5,444.4 1046,442.2" stroke-width="1.5" />
<rect x="975" y="446.9" width="14" height="3.5" rx="0" stroke-width="1.1" />
<line x1="981.5" y1="73.7" x2="981.5" y2="471" stroke-width="1.3" stroke-dasharray="22.5,7,5,7.1" stroke-dashoffset="1.6"/>
<line x1="977" y1="215.5" x2="987" y2="215.5" stroke-width="2.2" />
<line x1="865" y1="354.5" x2="1100" y2="354.5" stroke-width="1.3" stroke-dasharray="22.5,7,5,7.1"/>
</svg></body></html>
